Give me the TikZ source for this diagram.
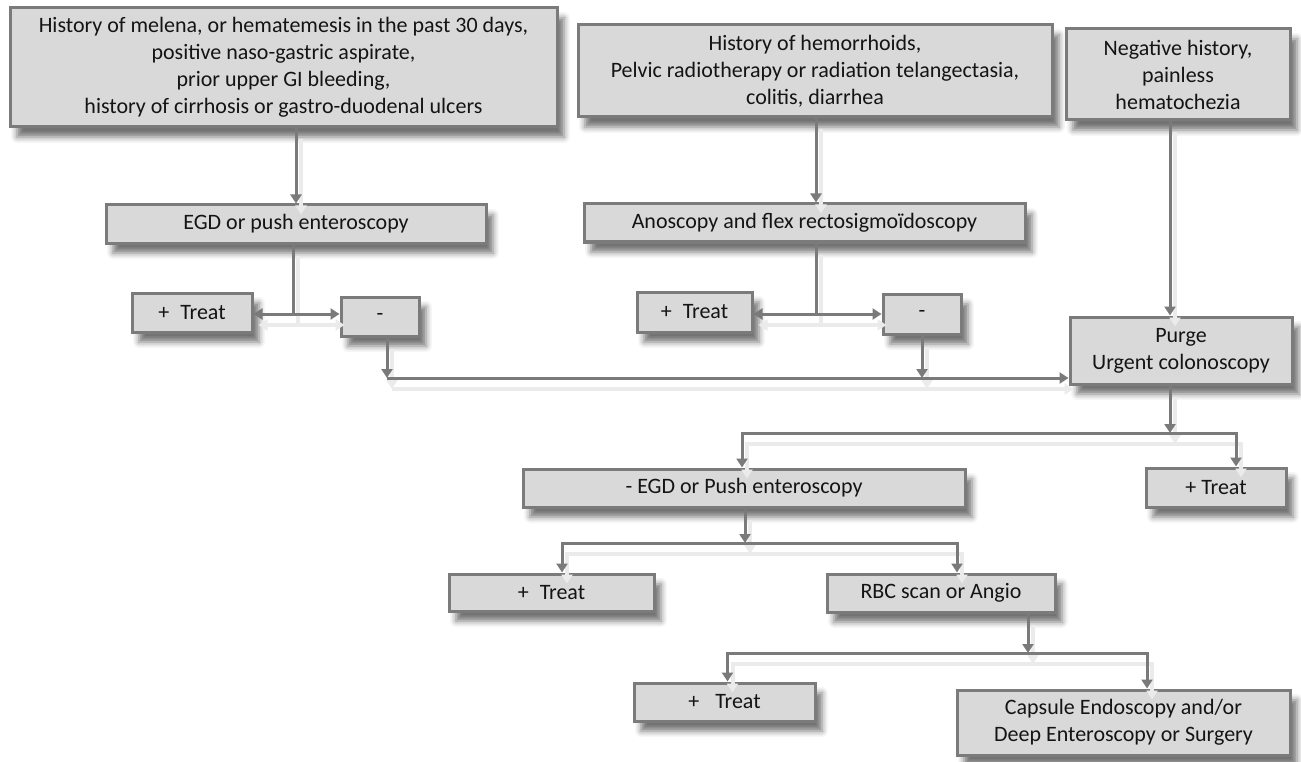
\documentclass[tikz,border=0pt]{standalone}
\usepackage{fontspec}
\setmainfont{Carlito}
\usetikzlibrary{arrows.meta,shadows.blur}
\definecolor{boxfill}{HTML}{D9D9D9}
\definecolor{boxline}{HTML}{7B7B7B}
\definecolor{linkcol}{HTML}{7A7A7A}
\tikzset{
  box/.style={draw=boxline, fill=boxfill, line width=3pt, inner sep=0pt,
    align=center, text=black!92, font=\fontsize{22}{27}\selectfont,
    blur shadow={shadow xshift=7pt, shadow yshift=-10pt, shadow blur radius=6pt, shadow opacity=55}},
  link/.style={draw=linkcol, line width=3pt,
    preaction={draw=black!8, line width=4pt, transform canvas={shift={(5pt,-11pt)}}}},
  arr/.style={link, -{Triangle[width=11pt,length=9pt]}},
  darr/.style={link, {Triangle[width=11pt,length=9pt]}-{Triangle[width=11pt,length=9pt]}}
}
\begin{document}
\begin{tikzpicture}[x=1pt,y=-1pt]
    \useasboundingbox (0,0) rectangle (1301,762);
    \node[box, minimum width=547, minimum height=119] (hA) at (283.5,67.5)
      {History of melena, or hematemesis in the past 30 days,\\ positive naso-gastric aspirate,\\ prior upper GI bleeding,\\ history of cirrhosis or gastro-duodenal ulcers};
    \node[box, minimum width=474, minimum height=92] (hB) at (815,71)
      {History of hemorrhoids,\\ Pelvic radiotherapy or radiation telangectasia,\\ colitis, diarrhea};
    \node[box, minimum width=224, minimum height=91] (hC) at (1178,74.5)
      {Negative history,\\ painless\\ hematochezia};
    \node[box, minimum width=380, minimum height=38] (egd) at (296,224) {EGD or push enteroscopy};
    \node[box, minimum width=441, minimum height=38] (ano) at (804.5,223) {Anoscopy and flex rectosigmoïdoscopy};
    \node[box, minimum width=120, minimum height=39] (tr1) at (192,312.5) {+\enspace Treat};
    \node[box, minimum width=78, minimum height=39] (m1) at (380,316.5) {-};
    \node[box, minimum width=115, minimum height=40] (tr2) at (694.5,312) {+\enspace Treat};
    \node[box, minimum width=78, minimum height=40] (m2) at (922,314) {-};
    \node[box, minimum width=222, minimum height=67] (purge) at (1181,350.5) {Purge\\ Urgent colonoscopy};
    \node[box, minimum width=442, minimum height=38] (egd2) at (744,488) {- EGD or Push enteroscopy};
    \node[box, minimum width=140, minimum height=39] (tr5) at (1216,487.5) {+ Treat};
    \node[box, minimum width=205, minimum height=37] (tr3) at (551.5,592.5) {+\enspace Treat};
    \node[box, minimum width=228, minimum height=38] (rbc) at (941,593) {RBC scan or Angio};
    \node[box, minimum width=181, minimum height=38] (tr4) at (724.5,702) {+\enspace\ Treat};
    \node[box, minimum width=333, minimum height=65] (cap) at (1123.5,722.5)
      {Capsule Endoscopy and/or\\ Deep Enteroscopy or Surgery};
    \coordinate (j1) at (293,314);
    \coordinate (j2) at (816,314);
    \coordinate (c1) at (387,378);
    \coordinate (k) at (1170,433);
    \coordinate (m) at (745,543);
    \coordinate (n) at (1028,653);
    \draw[arr] (egd.north |- hA.south) -- (egd.north);
    \draw[link] (egd.south -| j1) -- (j1);
    \draw[darr] (j1 -| tr1.east) -- (j1 -| m1.west);
    \draw[arr] (m1.south -| c1) -- (c1);
    \draw[arr] (hB.south -| j2) -- (ano.north -| j2);
    \draw[link] (ano.south -| j2) -- (j2);
    \draw[darr] (j2 -| tr2.east) -- (j2 -| m2.west);
    \draw[arr] (m2.south) -- (m2.south |- c1);
    \draw[arr] (c1) -- (c1 -| purge.west);
    \draw[arr] (hC.south -| k) -- (purge.north -| k);
    \draw[arr] (purge.south -| k) -- (k);
    \draw[arr] (k) -| ([xshift=-2pt]egd2.north);
    \draw[arr] (k) -| ([xshift=20pt]tr5.north);
    \draw[arr] (egd2.south -| m) -- (m);
    \draw[arr] (m) -| ([xshift=10.5pt]tr3.north);
    \draw[arr] (m) -| ([xshift=16pt]rbc.north);
    \draw[arr] (rbc.south -| n) -- (n);
    \draw[arr] (n) -| ([xshift=3pt]tr4.north);
    \draw[arr] (n) -| ([xshift=23.5pt]cap.north);
\end{tikzpicture}
\end{document}
